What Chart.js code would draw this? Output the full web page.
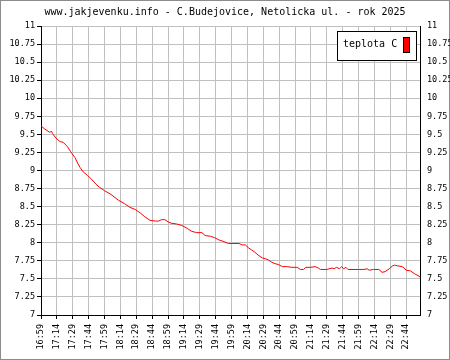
<!DOCTYPE html>
<html>
<head>
<meta charset="utf-8">
<script src="https://cdn.jsdelivr.net/npm/chart.js@4"></script>
<style>
    html, body { margin: 0; padding: 0; background: #fff; }
    #wrap { width: 450px; height: 360px; }
</style>
</head>
<body>
<div id="wrap"><canvas id="chart" width="450" height="360"></canvas></div>
<script>
// Readings (time of day, temperature in C)
const times = [
    '16:59', '17:02', '17:07', '17:09', '17:10', '17:13', '17:17', '17:20', '17:24', '17:27',
    '17:31', '17:34', '17:36', '17:39', '17:43', '17:46', '17:51', '17:54', '17:59', '18:05',
    '18:12', '18:18', '18:23', '18:28', '18:33', '18:37', '18:42', '18:47', '18:50', '18:53',
    '18:56', '18:59', '19:02', '19:07', '19:12', '19:17', '19:21', '19:26', '19:31', '19:34',
    '19:39', '19:43', '19:47', '19:51', '19:56', '20:06', '20:09', '20:12', '20:15', '20:18',
    '20:21', '20:24', '20:28', '20:31', '20:34', '20:37', '20:40', '20:43', '20:47', '20:51',
    '20:56', '21:01', '21:04', '21:07', '21:09', '21:14', '21:18', '21:21', '21:23', '21:29',
    '21:34', '21:36', '21:38', '21:41', '21:43', '21:45', '21:47', '21:49', '21:59', '22:04',
    '22:07', '22:09', '22:13', '22:18', '22:20', '22:21', '22:24', '22:26', '22:28', '22:31',
    '22:33', '22:36', '22:40', '22:42', '22:44', '22:48', '22:52', '22:57'
];
const temps = [
    9.62, 9.58, 9.53, 9.54, 9.51, 9.45, 9.40, 9.39, 9.33, 9.26,
    9.18, 9.09, 9.04, 8.98, 8.93, 8.89, 8.81, 8.77, 8.72, 8.67,
    8.59, 8.54, 8.49, 8.46, 8.41, 8.36, 8.31, 8.30, 8.30, 8.32,
    8.32, 8.29, 8.27, 8.26, 8.24, 8.20, 8.16, 8.14, 8.14, 8.10,
    8.09, 8.07, 8.04, 8.02, 7.99, 7.99, 7.97, 7.97, 7.93, 7.90,
    7.87, 7.83, 7.79, 7.78, 7.76, 7.73, 7.71, 7.70, 7.67, 7.67,
    7.66, 7.66, 7.63, 7.63, 7.66, 7.66, 7.67, 7.65, 7.63, 7.63,
    7.65, 7.64, 7.66, 7.64, 7.67, 7.64, 7.66, 7.63, 7.63, 7.63,
    7.64, 7.62, 7.63, 7.63, 7.61, 7.59, 7.60, 7.62, 7.64, 7.68,
    7.69, 7.68, 7.67, 7.65, 7.62, 7.61, 7.57, 7.53
];
const timeTicks = [
    '16:59', '17:14', '17:29', '17:44', '17:59', '18:14', '18:29', '18:44',
    '18:59', '19:14', '19:29', '19:44', '19:59', '20:14', '20:29', '20:44',
    '20:59', '21:14', '21:29', '21:44', '21:59', '22:14', '22:29', '22:44'
];
const tempTicks = [7, 7.25, 7.5, 7.75, 8, 8.25, 8.5, 8.75, 9, 9.25, 9.5, 9.75, 10, 10.25, 10.5, 10.75, 11];
const seriesName = 'teplota C';
const titleText = 'www.jakjevenku.info - C.Budejovice, Netolicka ul. - rok 2025';
const startTime = '16:59';
const endTime = '22:57';

const MONO = '"DejaVu Sans Mono", "Liberation Mono", monospace';

// minutes since midnight
const toMin = (t) => {
    const [h, m] = t.split(':').map(Number);
    return h * 60 + m;
};
const toClock = (v) => {
    const h = Math.floor(v / 60);
    const m = Math.round(v % 60);
    return h + ':' + String(m).padStart(2, '0');
};

// white background + grey frame
const frame = {
    id: 'frame',
    beforeDraw(chart) {
        const ctx = chart.ctx;
        ctx.save();
        ctx.fillStyle = '#fff';
        ctx.fillRect(0, 0, chart.width, chart.height);
        ctx.strokeStyle = '#8c8c8c';
        ctx.lineWidth = 1;
        ctx.strokeRect(0.5, 0.5, chart.width - 1, chart.height - 1);
        ctx.restore();
    }
};

// boxed legend with the swatch right of the text
const boxLegend = {
    id: 'boxLegend',
    afterDraw(chart) {
        const ctx = chart.ctx;
        const ds = chart.data.datasets[0];
        ctx.save();
        ctx.fillStyle = '#fff';
        ctx.strokeStyle = '#000';
        ctx.lineWidth = 1;
        ctx.fillRect(337.5, 31.5, 79, 29);
        ctx.strokeRect(337.5, 31.5, 79, 29);
        ctx.fillStyle = '#000';
        ctx.font = '10px ' + MONO;
        ctx.textBaseline = 'middle';
        ctx.textAlign = 'left';
        ctx.fillText(ds.label, 343, 44.5);
        ctx.fillStyle = ds.borderColor;
        ctx.fillRect(403.5, 37.5, 6, 15);
        ctx.strokeRect(403.5, 37.5, 6, 15);
        ctx.restore();
    }
};

const yTicks = {
    stepSize: 0.25,
    color: '#000',
    font: { family: MONO, size: 8.5 },
    callback: (v) => String(v)
};

new Chart(document.getElementById('chart'), {
    type: 'line',
    data: {
        datasets: [{
            label: seriesName,
            data: times.map((t, i) => ({ x: toMin(t), y: temps[i] })),
            borderColor: '#ff0000',
            borderWidth: 1,
            pointRadius: 0,
            tension: 0,
            fill: false
        }]
    },
    options: {
        responsive: false,
        animation: false,
        events: [],
        layout: { padding: 0 },
        plugins: {
            legend: { display: false },
            tooltip: { enabled: false },
            title: {
                display: true,
                text: titleText,
                color: '#000',
                font: { family: MONO, size: 10, weight: 'normal' },
                padding: { top: 6, bottom: 8 }
            }
        },
        scales: {
            x: {
                type: 'linear',
                min: toMin(startTime),
                max: toMin(endTime),
                afterBuildTicks: (s) => { s.ticks = timeTicks.map(t => ({ value: toMin(t) })); },
                afterFit: (s) => { s.height = 45; },
                border: { color: '#000', width: 1 },
                grid: { color: '#c0c0c0', tickColor: '#000', tickLength: 4 },
                ticks: {
                    autoSkip: false,
                    minRotation: 90,
                    maxRotation: 90,
                    padding: 5,
                    color: '#000',
                    font: { family: MONO, size: 8.5 },
                    callback: (v) => toClock(v)
                }
            },
            y: {
                min: tempTicks[0],
                max: tempTicks[tempTicks.length - 1],
                afterBuildTicks: (s) => { s.ticks = tempTicks.map(v => ({ value: v })); },
                afterFit: (s) => { s.width = 41; },
                border: { color: '#000', width: 1 },
                grid: { color: '#c0c0c0', tickColor: '#000', tickLength: 4 },
                ticks: Object.assign({ padding: 2 }, yTicks)
            },
            y2: {
                position: 'right',
                min: tempTicks[0],
                max: tempTicks[tempTicks.length - 1],
                afterBuildTicks: (s) => { s.ticks = tempTicks.map(v => ({ value: v })); },
                afterFit: (s) => { s.width = 30; },
                border: { color: '#000', width: 1 },
                grid: { display: false, drawTicks: false },
                ticks: Object.assign({ padding: 7 }, yTicks)
            }
        }
    },
    plugins: [frame, boxLegend]
});
</script>
</body>
</html>
